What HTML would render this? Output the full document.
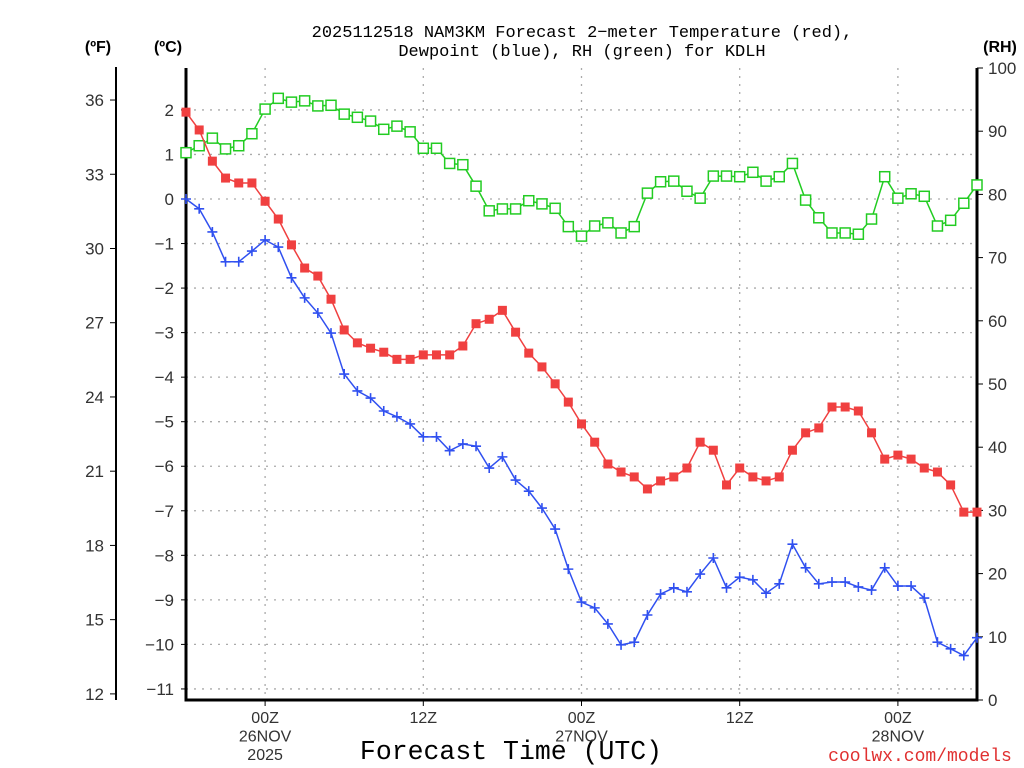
<!DOCTYPE html>
<html><head><meta charset="utf-8"><style>
body{margin:0;background:#fff;width:1024px;height:768px;overflow:hidden;font-family:"Liberation Sans",sans-serif}
svg{display:block}
</style></head><body>
<svg id="chart" width="1024" height="768" viewBox="0 0 1024 768" font-family="Liberation Sans, sans-serif">
<text x="582" y="37" text-anchor="middle" font-size="17" font-family="Liberation Mono, monospace" fill="#000">2025112518 NAM3KM Forecast 2−meter Temperature (red),</text>
<text x="582" y="56" text-anchor="middle" font-size="17" font-family="Liberation Mono, monospace" fill="#000">Dewpoint (blue), RH (green) for KDLH</text>
<text x="98" y="52" text-anchor="middle" font-size="16" font-weight="bold">(ºF)</text>
<text x="168" y="52" text-anchor="middle" font-size="16" font-weight="bold">(ºC)</text>
<text x="1000" y="52" text-anchor="middle" font-size="16" font-weight="bold">(RH)</text>
<text x="511" y="759" text-anchor="middle" font-size="26.5" font-family="Liberation Mono, monospace">Forecast Time (UTC)</text>
<text x="920" y="761" text-anchor="middle" font-size="18" font-family="Liberation Mono, monospace" fill="#e03030">coolwx.com/models</text>
<g id="grid"></g><g id="axes"></g><g id="series"></g>
</svg>
<script>
const hours = [];
for (let i = 0; i <= 60; i++) hours.push(i);
const tempC = [1.95,1.55,0.85,0.47,0.36,0.36,-0.05,-0.45,-1.03,-1.55,-1.73,-2.25,-2.94,-3.23,-3.35,-3.44,-3.6,-3.6,-3.5,-3.5,-3.5,-3.3,-2.8,-2.7,-2.5,-2.99,-3.46,-3.77,-4.15,-4.56,-5.05,-5.46,-5.95,-6.13,-6.24,-6.51,-6.33,-6.24,-6.04,-5.46,-5.64,-6.42,-6.04,-6.24,-6.33,-6.24,-5.64,-5.25,-5.14,-4.67,-4.67,-4.76,-5.25,-5.84,-5.75,-5.84,-6.04,-6.13,-6.42,-7.03,-7.03];
const dewC = [0.0,-0.22,-0.74,-1.41,-1.41,-1.17,-0.92,-1.08,-1.77,-2.22,-2.56,-3.01,-3.93,-4.31,-4.47,-4.76,-4.89,-5.05,-5.34,-5.34,-5.65,-5.5,-5.55,-6.04,-5.79,-6.31,-6.56,-6.94,-7.41,-8.31,-9.05,-9.18,-9.54,-10.01,-9.95,-9.34,-8.87,-8.73,-8.82,-8.42,-8.06,-8.73,-8.49,-8.55,-8.85,-8.64,-7.75,-8.28,-8.64,-8.6,-8.6,-8.71,-8.78,-8.28,-8.69,-8.69,-8.96,-9.95,-10.1,-10.25,-9.85];
const rh = [86.6,87.7,88.9,87.2,87.7,89.6,93.5,95.2,94.6,94.8,94.0,94.1,92.7,92.2,91.6,90.3,90.8,89.9,87.3,87.3,84.9,84.7,81.3,77.4,77.7,77.7,79.0,78.5,77.8,74.9,73.4,75.0,75.5,73.9,74.9,80.2,82.0,82.1,80.5,79.4,82.9,82.9,82.8,83.5,82.1,82.8,84.9,79.1,76.3,73.9,73.9,73.7,76.1,82.8,79.4,80.1,79.7,75.0,75.9,78.6,81.5];
const cTicks = [2,1,0,-1,-2,-3,-4,-5,-6,-7,-8,-9,-10,-11];
const fTicks = [36,33,30,27,24,21,18,15,12];
const rhTicks = [100,90,80,70,60,50,40,30,20,10,0];
const xTickHours = [6,18,30,42,54];
const xTickLabels = [["00Z","26NOV","2025"],["12Z"],["00Z","27NOV"],["12Z"],["00Z","28NOV"]];

const X0=186, X1=977, Y0=700, YT=68;
const xs = h => X0 + (h/60)*(X1-X0);
const yC = c => 199 - c*44.54;
const yF = f => yC((f-32)*5/9);
const yR = r => Y0 - r*(Y0-YT)/100;
const NS="http://www.w3.org/2000/svg";
function mk(tag, attrs, parent){const e=document.createElementNS(NS,tag);for(const k in attrs)e.setAttribute(k,attrs[k]);parent.appendChild(e);return e;}
const grid=document.getElementById('grid'), axes=document.getElementById('axes'), ser=document.getElementById('series');

cTicks.forEach(c=>{
  const g=mk('line',{x1:X0,x2:X1,y1:yC(c),y2:yC(c),stroke:'#aaa','stroke-width':1.3,'stroke-dasharray':'2 6'},grid);
  
  
  const t=mk('line',{x1:X0-5,x2:X0,y1:yC(c),y2:yC(c),stroke:'#000'},axes);
  
  
  const l=mk('text',{x:X0-12,y:yC(c)+6,'text-anchor':'end','font-size':17,fill:'#333'},axes);
  
  
  l.textContent=(c<0?'−'+(-c):c);
});
xTickHours.forEach((h,i)=>{
  const g=mk('line',{x1:xs(h),x2:xs(h),y1:YT,y2:Y0,stroke:'#aaa','stroke-width':1.3,'stroke-dasharray':'2 6'},grid);
  
  
  const t=mk('line',{x1:xs(h),x2:xs(h),y1:Y0,y2:Y0+6,stroke:'#000'},axes);
  
  
  xTickLabels[i].forEach((s,j)=>{
    const l=mk('text',{x:xs(h),y:723+j*18.5,'text-anchor':'middle','font-size':16,fill:'#333'},axes);
    
    
    l.textContent=s;
  });
});
fTicks.forEach(f=>{
  const t=mk('line',{x1:110,x2:116,y1:yF(f),y2:yF(f),stroke:'#000'},axes);
  
  
  const l=mk('text',{x:104,y:yF(f)+6,'text-anchor':'end','font-size':17,fill:'#333'},axes);
  
  
  l.textContent=f;
});
rhTicks.forEach(r=>{
  const t=mk('line',{x1:X1,x2:X1+6,y1:yR(r),y2:yR(r),stroke:'#000'},axes);
  
  
  const l=mk('text',{x:988,y:yR(r)+6,'text-anchor':'start','font-size':17,fill:'#333'},axes);
  
  
  l.textContent=r;
});
const fa=mk('line',{x1:116,x2:116,y1:67,y2:Y0,stroke:'#000','stroke-width':2},axes);


const frame=mk('path',{d:`M${X0},${YT} V${Y0} H${X1} V${YT}`,fill:'none',stroke:'#000','stroke-width':3},axes);



const rhLine=mk('polyline',{points:rh.map((v,i)=>xs(hours[i])+','+yR(v)).join(' '),fill:'none',stroke:'#22cc22','stroke-width':1.5},ser);


rh.forEach((v,i)=>{
  const m=mk('rect',{x:xs(hours[i])-5,y:yR(v)-5,width:10,height:10,fill:'#fff',stroke:'#22cc22','stroke-width':1.5},ser);
  
  
});
const tLine=mk('polyline',{points:tempC.map((v,i)=>xs(hours[i])+','+yC(v)).join(' '),fill:'none',stroke:'#f04040','stroke-width':1.5},ser);


tempC.forEach((v,i)=>{
  const m=mk('rect',{x:xs(hours[i])-4.5,y:yC(v)-4.5,width:9,height:9,fill:'#f04040'},ser);
  
  
});
const dLine=mk('polyline',{points:dewC.map((v,i)=>xs(hours[i])+','+yC(v)).join(' '),fill:'none',stroke:'#3050f0','stroke-width':1.5},ser);


dewC.forEach((v,i)=>{
  const x=xs(hours[i]), y=yC(v);
  const m=mk('path',{d:`M${x-5},${y} H${x+5} M${x},${y-5} V${y+5}`,stroke:'#3050f0','stroke-width':1.6},ser);
  
  
});
</script>
</body></html>
